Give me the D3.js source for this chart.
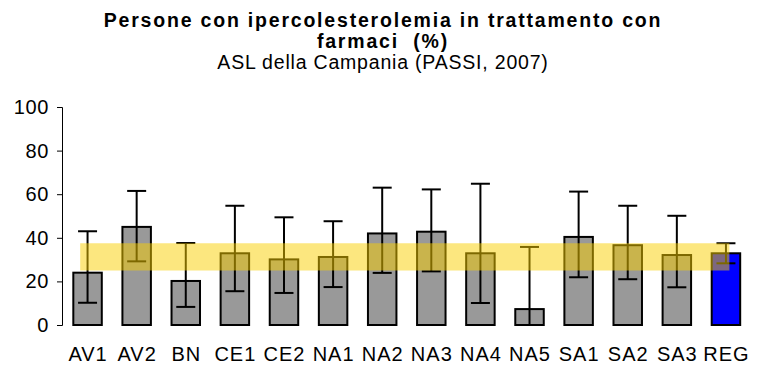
<!DOCTYPE html>
<html>
<head>
<meta charset="utf-8">
<script src="https://cdn.jsdelivr.net/npm/d3@7/dist/d3.min.js"></script>
<style>
  html, body { margin: 0; padding: 0; background: #fff; }
  svg { display: block; font-family: "Liberation Sans", Arial, sans-serif; }
</style>
</head>
<body>
<svg id="chart" width="763" height="370"></svg>
<script>
// ASL codes and the regional total
const categories = ["AV1", "AV2", "BN", "CE1", "CE2", "NA1", "NA2", "NA3", "NA4", "NA5", "SA1", "SA2", "SA3", "REG"];
// Percentage of people with hypercholesterolemia under drug treatment
const values = [24.0, 45.0, 20.2, 32.9, 30.1, 31.2, 42.0, 42.8, 32.9, 7.3, 40.4, 36.6, 32.1, 32.9];
// 95% confidence interval bounds
const lowerCI = [10.2, 29.2, 8.3, 15.5, 14.7, 17.4, 23.9, 24.6, 10.1, 0.0, 21.9, 21.0, 17.3, 28.3];
const upperCI = [43.0, 61.5, 37.6, 54.7, 49.4, 47.6, 63.0, 62.2, 64.8, 35.8, 61.2, 54.7, 50.1, 37.5];
// Regional reference band (low, high)
const regionBand = [25.0, 37.5];
// Y axis ticks
const yTicks = [0, 20, 40, 60, 80, 100];

const titleLines = ["Persone con ipercolesterolemia in trattamento con", "farmaci  (%)"];
const subtitle = "ASL della Campania (PASSI, 2007)";

const svg = d3.select("#chart");

const x = d3.scalePoint().domain(categories).range([63, 750.5]).padding(0.5);
const step = x.step();
const barW = step * 0.58;
const y = d3.scaleLinear().domain([0, 100]).range([325, 107]);

// Titles
const cx = 383;
svg.append("text").attr("x", cx).attr("y", 27).attr("text-anchor", "middle")
  .style("font-weight", "bold").style("font-size", "19.5px").style("letter-spacing", "1.8px")
  .text(titleLines[0]);
svg.append("text").attr("x", cx).attr("y", 48).attr("text-anchor", "middle")
  .style("font-weight", "bold").style("font-size", "19.5px").style("letter-spacing", "1.8px")
  .attr("xml:space", "preserve")
  .text(titleLines[1]);
svg.append("text").attr("x", cx).attr("y", 69).attr("text-anchor", "middle")
  .style("font-size", "19.5px").style("letter-spacing", "0.8px")
  .text(subtitle);

// Y axis
const yAxis = d3.axisLeft(y).tickValues(yTicks).tickSize(5).tickPadding(8);
const gy = svg.append("g").attr("transform", "translate(62,0)").call(yAxis);
gy.select(".domain").attr("stroke", "#000").attr("stroke-width", 1);
gy.selectAll(".tick line").attr("stroke", "#000");
gy.selectAll(".tick text").style("font-size", "20px").style("letter-spacing", "0.6px")
  .style("font-family", "'Liberation Sans', Arial, sans-serif").attr("fill", "#000");

// X labels
const xAxis = d3.axisBottom(x).tickSize(0).tickPadding(22);
const gx = svg.append("g").attr("transform", "translate(0,325)").call(xAxis);
gx.select(".domain").remove();
gx.selectAll(".tick text").style("font-size", "20px").style("letter-spacing", "1px")
  .style("font-family", "'Liberation Sans', Arial, sans-serif").attr("fill", "#000");

const rows = categories.map((c, i) => ({ c, v: values[i], lo: lowerCI[i], hi: upperCI[i] }));

// Bars
svg.append("g").selectAll("rect").data(rows).join("rect")
  .attr("x", d => x(d.c) - barW / 2)
  .attr("y", d => y(d.v))
  .attr("width", barW)
  .attr("height", d => y(0) - y(d.v))
  .attr("fill", d => d.c === "REG" ? "#0000ff" : "#999999")
  .attr("stroke", "#000")
  .attr("stroke-width", 2);

// Error bars
const capW = 19;
const eb = svg.append("g").attr("stroke", "#000").attr("stroke-width", 2);
eb.selectAll("line.v").data(rows).join("line").attr("class", "v")
  .attr("x1", d => x(d.c)).attr("x2", d => x(d.c))
  .attr("y1", d => y(d.lo)).attr("y2", d => y(d.hi));
eb.selectAll("line.t").data(rows).join("line").attr("class", "t")
  .attr("x1", d => x(d.c) - capW / 2).attr("x2", d => x(d.c) + capW / 2)
  .attr("y1", d => y(d.hi)).attr("y2", d => y(d.hi));
eb.selectAll("line.b").data(rows).join("line").attr("class", "b")
  .attr("x1", d => x(d.c) - capW / 2).attr("x2", d => x(d.c) + capW / 2)
  .attr("y1", d => y(d.lo)).attr("y2", d => y(d.lo));

// Regional reference band, translucent over the bars
const bandX0 = x(categories[0]) - step * 0.15;
const bandX1 = x(categories[categories.length - 1]) + step * 0.07;
svg.append("rect")
  .attr("x", bandX0)
  .attr("y", y(regionBand[1]))
  .attr("width", bandX1 - bandX0)
  .attr("height", y(regionBand[0]) - y(regionBand[1]))
  .attr("fill", "rgb(250,208,0)")
  .attr("fill-opacity", 0.5);
</script>
</body>
</html>
